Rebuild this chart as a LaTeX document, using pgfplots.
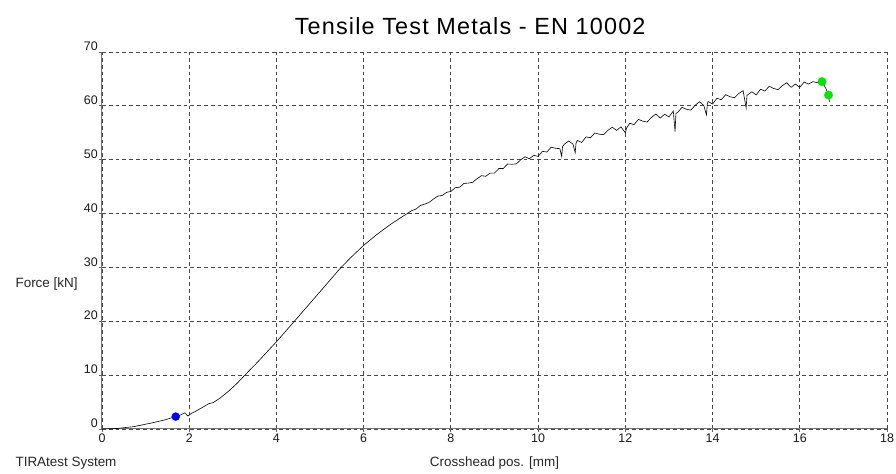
\documentclass[border=0pt]{standalone}
\usepackage{fontspec}
\setmainfont{Liberation Sans}
\newfontfamily\titlefont[LetterSpace=5]{Liberation Sans}
\usepackage{pgfplots}
\pgfplotsset{compat=1.18}
\begin{document}
\begin{tikzpicture}
\begin{axis}[
  scale only axis,
  width=785bp, height=377bp,
  at={(0,0)}, anchor=south west,
  xmin=0, xmax=18, ymin=0, ymax=70,
  xtick={0,2,...,18}, ytick={0,10,...,70},
  axis lines*=left,
  axis line style={draw=black!55, line width=1bp},
  grid=major,
  major grid style={draw=black!72, dash pattern=on 3.8bp off 3bp, line width=0.9bp},
  tick style={draw=black!60, line width=0.8bp},
  major tick length=3bp,
  tick align=outside,
  /pgf/number format/assume math mode=true,
  ticklabel style={font=\fontsize{12.5}{13}\selectfont, text=black!90},
  yticklabel style={anchor=south east, inner sep=1bp},
  xticklabel style={inner sep=2bp},
  clip=false,
  xlabel={Crosshead pos. [mm]},
  xlabel style={at={(axis description cs:0.5,-0.09)}, anchor=center, font=\fontsize{13.5}{14}\selectfont, text=black!85},
  ylabel={Force [kN]},
  ylabel style={at={(axis description cs:-0.1146,0.385)}, rotate=-90, anchor=west, font=\fontsize{13.5}{14}\selectfont, text=black!85},
  title={Tensile Test Metals - EN 10002},
  title style={at={(axis description cs:0.469,1.053)}, anchor=center, font=\titlefont\fontsize{23.5}{24}\selectfont},
]
\addplot[black, line width=0.6bp] coordinates {
(0,0) (0.35,0.1) (0.72,0.43) (1.1,1.05) (1.4,1.6) (1.69,2.3) (1.8,2.6) (1.9,3.0) (1.97,2.4) (2.05,2.9) (2.15,3.3)
(2.3,4.0) (2.45,4.7) (2.55,4.9) (2.7,5.7) (2.9,7.0) (3.1,8.5) (3.3,10.2) (3.6,12.7) (4.0,16.2) (4.4,19.9) (5.0,25.5) (5.46,29.8)
(5.7,31.8) (6.0,34.1) (6.3,36.1) (6.6,37.9) (6.9,39.5) (7.0,40.0)
(7.1,40.54) (7.2,40.83) (7.3,41.5) (7.4,41.76) (7.5,42.08) (7.6,42.7) (7.7,43.24) (7.8,43.36) (7.9,43.93) (8.0,44.12)
(8.1,44.8) (8.2,44.9) (8.3,45.6) (8.4,45.66) (8.5,45.8) (8.6,46.48) (8.7,47.04) (8.8,46.92) (8.9,47.52) (9.0,47.52)
(9.1,48.36) (9.2,48.37) (9.3,49.2) (9.4,49.16) (9.5,49.22) (9.6,49.97) (9.7,50.54) (9.8,50.18) (9.9,50.81) (10.0,50.62)
(10.1,51.56) (10.2,51.42) (10.3,52.33) (10.4,52.12) (10.5,52.05) (10.54,50.6) (10.56,52.4) (10.6,52.87) (10.7,53.48)
(10.8,52.9) (10.85,51.3) (10.87,53.1) (10.9,53.58) (11.0,53.21) (11.1,54.24) (11.2,54.08) (11.3,54.97) (11.4,54.74)
(11.5,54.65) (11.6,55.45) (11.7,56.04) (11.8,55.44) (11.9,56.1) (12.0,55.0) (12.03,55.9)
(12.1,56.76) (12.2,56.52) (12.3,57.48) (12.4,57.16) (12.5,57.0) (12.6,57.86) (12.7,58.48) (12.8,57.74) (12.9,58.44) (13.0,57.94)
(13.1,59.04) (13.14,55.2) (13.16,58.6) (13.2,58.78) (13.3,59.72) (13.4,59.38) (13.5,59.2) (13.6,60.1) (13.7,60.76) (13.8,60.06)
(13.86,58.3) (13.88,60.4) (13.9,60.8) (14.0,60.34)
(14.1,61.42) (14.2,61.14) (14.3,62.06) (14.4,61.7) (14.5,61.5) (14.6,62.28) (14.7,62.82) (14.77,59.6) (14.79,62.0) (14.8,62.0) (14.9,62.62) (15.0,62.04)
(15.1,63.08) (15.2,62.76) (15.3,63.64) (15.4,63.24) (15.5,63.0) (15.6,63.76) (15.7,64.28) (15.8,63.44) (15.9,64.04) (16.0,63.44)
(16.1,64.42) (16.2,64.04) (16.3,64.5) (16.4,64.3) (16.51,64.5) (16.6,63.2) (16.66,62.0) (16.68,60.7)
};
\addplot[only marks, mark=*, mark size=4bp, color=blue] coordinates {(1.69,2.3)};
\addplot[only marks, mark=*, mark size=4.2bp, color=green!90!black] coordinates {(16.51,64.5) (16.66,62.0)};
\node[anchor=west, font=\fontsize{13.5}{14}\selectfont, text=black!85] at (axis description cs:-0.1146,-0.092) {TIRAtest System};
\end{axis}
\path (-102bp,-43bp) rectangle (794bp,429bp);
\end{tikzpicture}
\end{document}
